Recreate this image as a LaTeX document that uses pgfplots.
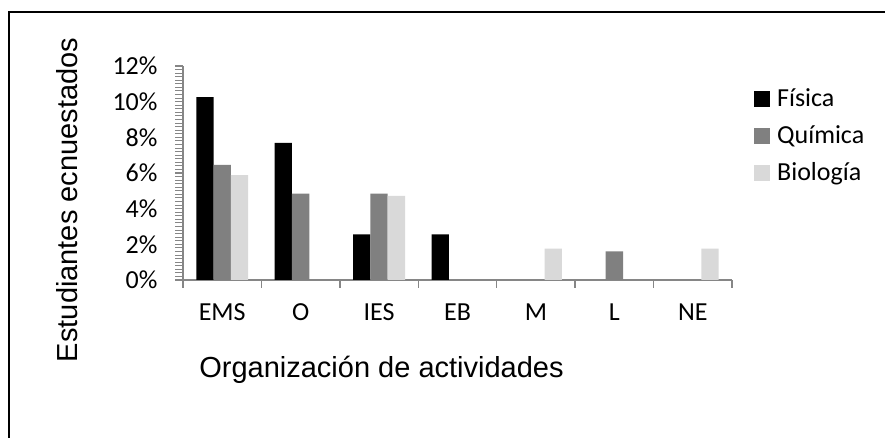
\documentclass[border=0pt]{standalone}
\usepackage{pgfplots}
\pgfplotsset{compat=1.18}
\usepackage{fontspec}
\setmainfont{Carlito}
\newfontfamily\arialfont{Liberation Sans}
\definecolor{axisgray}{RGB}{134,134,134}
\definecolor{quimica}{RGB}{128,128,128}
\definecolor{biologia}{RGB}{217,217,217}
\begin{document}
\begin{tikzpicture}[x=1pt,y=1pt]
\useasboundingbox (0,0) rectangle (885,438);
\fill[white] (0,0) rectangle (885,438);
\draw[black, line width=2pt] (9.3,0) -- (9.3,426.2) -- (885,426.2);
\begin{axis}[
  at={(183pt,158pt)}, anchor=south west,
  scale only axis, width=549pt, height=214pt,
  xmin=-0.5, xmax=6.5, ymin=0, ymax=12,
  axis x line*=bottom, axis y line*=left,
  axis line style={draw=axisgray, line width=1.5pt, -},
  tick align=outside,
  xtick={0,...,6}, xticklabels={EMS,O,IES,EB,M,L,NE},
  major x tick style={draw=none},
  minor xtick={-0.5,0.5,...,6.5},
  minor x tick style={draw=axisgray, line width=1.3pt},
  ytick={0,2,...,12},
  minor y tick num=9,
  major y tick style={draw=axisgray, line width=1.2pt},
  minor y tick style={draw=axisgray, line width=1pt},
  major tick length=8pt, minor tick length=8pt,
  /pgf/number format/assume math mode=true,
  yticklabel={\pgfmathprintnumber{\tick}\%},
  tick label style={font=\fontsize{26}{26}\selectfont, black},
  yticklabel style={anchor=east, xshift=-14pt},
  xticklabel style={anchor=north, yshift=-12pt},
  ybar=0pt, bar width=17.3pt,
  legend style={draw=none, fill=none, at={(1.040,0.891)}, anchor=north west,
    font=\fontsize{26}{26}\selectfont, row sep=14pt, column sep=7pt, inner sep=0pt,
    nodes={inner sep=0pt, text height=17pt, text depth=6pt}},
  legend cell align=left,
  legend image code/.code={\fill[#1] (0pt,-5.5pt) rectangle (16pt,10.5pt);},
  clip=false,
]
\addplot[fill=black, draw=none] coordinates {(0,10.26) (1,7.69) (2,2.56) (3,2.56)};
\addplot[fill=quimica, draw=none] coordinates {(0,6.45) (1,4.84) (2,4.84) (5,1.61)};
\addplot[fill=biologia, draw=none] coordinates {(0,5.88) (2,4.71) (4,1.76) (6,1.76)};
\legend{Física,Química,Biología}
\end{axis}
\node[rotate=90, font=\arialfont\fontsize{29}{29}\selectfont] at (67,238) {Estudiantes ecnuestados};
\node[font=\arialfont\fontsize{29}{29}\selectfont] at (381.5,68) {Organización de actividades};
\end{tikzpicture}
\end{document}
